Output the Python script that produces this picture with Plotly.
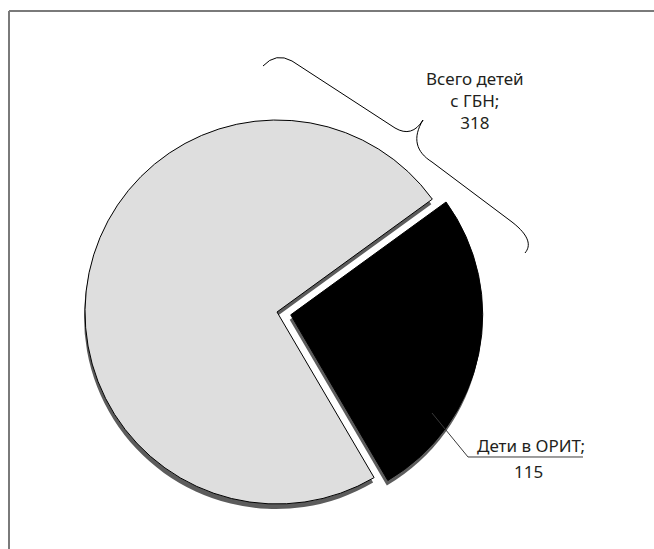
import plotly.graph_objects as go

# Data
labels = ["Дети в ОРИТ", "Всего детей с ГБН"]
values = [115, 318]
label_texts = ["Дети в ОРИТ;", "115"]
total_texts = ["Всего детей", "с ГБН;", "318"]

W, H = 654, 549
FONT = "Noto Sans"
TXT = "#231f20"

# Pie geometry (pixels)
cx, cy, r = 277, 312, 192
pull = 0.073
rotation = 54
half = r * (1 + pull)


def px(x):
    return x / W


def py(y):
    return 1 - y / H


def dom(dx=0, dy=0):
    return dict(
        x=[px(cx - half + dx), px(cx + half + dx)],
        y=[py(cy + half + dy), py(cy - half + dy)],
    )


fig = go.Figure()

# Drop shadow under the pie
fig.add_trace(go.Pie(
    labels=labels, values=values, sort=False, direction="clockwise",
    rotation=rotation, pull=[pull, 0], domain=dom(-1, 5),
    marker=dict(colors=["#5c5c5c", "#5c5c5c"], line=dict(width=0)),
    textinfo="none", hoverinfo="skip", showlegend=False,
))

# Main pie
fig.add_trace(go.Pie(
    labels=labels, values=values, sort=False, direction="clockwise",
    rotation=rotation, pull=[pull, 0], domain=dom(),
    marker=dict(colors=["#000000", "#dedede"], line=dict(color="#000000", width=1)),
    textinfo="none", showlegend=False,
))


def path(pts):
    return pts


shapes = []
# Frame
shapes.append(dict(type="line", xref="paper", yref="paper",
                   x0=px(9), y0=py(11), x1=px(W + 5), y1=py(11),
                   line=dict(color="#7a7a7a", width=2)))
shapes.append(dict(type="line", xref="paper", yref="paper",
                   x0=px(9), y0=py(11), x1=px(9), y1=py(H + 5),
                   line=dict(color="#7a7a7a", width=2)))

# Curly brace over the large slice
brace = [
    ("M", [(263, 66)]),
    ("Q", [(276, 52), (292, 61)]),
    ("L", [(395, 128)]),
    ("Q", [(412, 138), (423, 120)]),
    ("C", [(412, 138), (416, 152), (432, 162)]),
    ("L", [(512, 222)]),
    ("C", [(530, 236), (531, 246), (525, 253)]),
]
d = " ".join(
    cmd + " " + " ".join(f"{px(x):.5f},{py(y):.5f}" for x, y in pts)
    for cmd, pts in brace
)
shapes.append(dict(type="path", xref="paper", yref="paper", path=d,
                   line=dict(color="#000000", width=1), layer="above"))

# Leader line for the small slice
lead = [(432, 413), (468, 457), (583, 457)]
d2 = "M " + " L ".join(f"{px(x):.5f},{py(y):.5f}" for x, y in lead)
shapes.append(dict(type="path", xref="paper", yref="paper", path=d2,
                   line=dict(color="#3a3a3a", width=1), layer="above"))

annotations = [
    dict(text="<br>".join(total_texts), x=px(475), y=py(100), xref="paper", yref="paper",
         showarrow=False, xanchor="center", yanchor="middle",
         font=dict(family=FONT, size=17, color=TXT)),
    dict(text=label_texts[0], x=px(531), y=py(445), xref="paper", yref="paper",
         showarrow=False, xanchor="center", yanchor="middle",
         font=dict(family=FONT, size=17, color=TXT)),
    dict(text=label_texts[1], x=px(528), y=py(471), xref="paper", yref="paper",
         showarrow=False, xanchor="center", yanchor="middle",
         font=dict(family=FONT, size=17, color=TXT)),
]

fig.update_layout(
    width=W, height=H, margin=dict(l=0, r=0, t=0, b=0),
    paper_bgcolor="white", plot_bgcolor="white",
    shapes=shapes, annotations=annotations, showlegend=False,
)

fig.write_html("out.html")
